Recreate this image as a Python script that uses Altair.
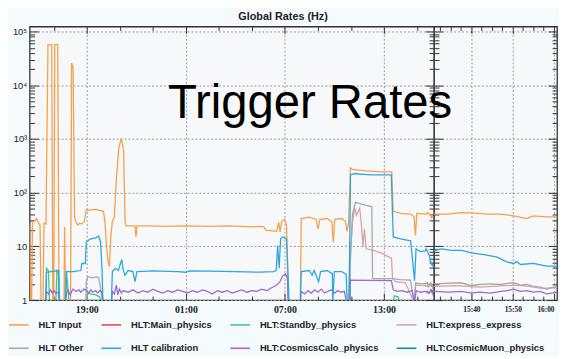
import altair as alt
import pandas as pd

names = ["HLT Input", "HLT:Main_physics", "HLT:Standby_physics", "HLT:express_express",
         "HLT Other", "HLT calibration", "HLT:CosmicsCalo_physics", "HLT:CosmicMuon_physics"]
colors = ["#f5a04c", "#e8474f", "#3cc98c", "#d6a4aa", "#a8a8a8", "#2aa7e2", "#9a6dd0", "#1e8c8e"]

title_text = "Global Rates (Hz)"
overlay_text = "Trigger Rates"

# hours since midnight of day 1 ; rates in Hz (0.9 = below the axis floor)
in_h = [15.54, 15.60, 15.66, 15.71, 15.84, 15.96, 16.08, 16.17, 16.23, 16.35, 16.41, 16.53, 16.65, 16.88,
        16.94, 17.00, 17.06, 17.24, 17.32, 17.62, 17.66, 17.71, 18.02, 18.08, 18.17, 18.26, 18.34, 18.46,
        18.58, 18.70, 18.85, 18.97, 19.54, 20.01, 20.10, 20.19, 20.28, 20.37, 20.46, 20.55, 20.67, 20.79,
        20.94, 21.09, 21.23, 21.32, 21.38, 21.92, 21.98, 22.04, 22.81, 23.71, 25.08, 26.39, 27.58, 29.07,
        29.49, 29.73, 29.85, 30.50, 30.62, 30.71, 30.80, 30.98, 31.10, 31.19, 31.93, 31.99, 32.47, 32.89,
        33.01, 33.12, 33.54, 33.84, 33.93, 34.02, 34.44, 34.67, 34.76, 34.85, 34.97, 35.09, 35.93, 36.82,
        37.47, 37.56, 38.01, 38.61, 38.82, 38.90, 38.99, 39.50, 39.52, 39.573, 39.626, 39.679, 39.731,
        39.785, 39.837, 39.890, 39.917, 39.970, 40.016]
in_v = [26, 0.9, 0.9, 28, 30, 33, 27, 25, 0.9, 0.9, 27, 26, 57000, 57000, 0.9, 0.9, 57000, 57000, 0.9, 0.9,
        23, 0.9, 0.9, 25700, 21000, 35, 29, 25, 27, 26, 29, 47, 49, 45, 29, 11, 5.4, 4.2, 16, 29, 35, 175,
        680, 1030, 620, 29, 24, 24, 15, 24, 24, 23.5, 24, 23.5, 24, 23, 23.5, 23, 20, 19, 28, 18.5, 29, 32,
        25, 0.9, 0.9, 33, 35, 32, 21, 32, 33, 29, 12, 32, 33, 29, 19, 26, 290, 270, 255, 245, 245, 45, 41,
        40, 36, 16, 41, 40, 40, 40, 42.5, 41.5, 40, 40, 37, 33, 37, 35.5, 35.5]

cal_h = [15.54, 16.50, 16.56, 16.85, 17.30, 17.36, 17.72, 17.78, 18.17, 18.64, 18.70, 18.91, 18.97, 19.24,
         19.54, 19.72, 19.83, 19.92, 19.98, 20.49, 20.55, 20.73, 20.91, 21.12, 21.20, 21.32, 21.50, 21.80,
         21.92, 22.04, 23.0, 24.5, 25.0, 25.2, 26.5, 28.0, 29.5, 30.3, 30.47, 30.56, 30.65, 30.74, 30.86,
         31.10, 31.19, 31.25, 31.93, 31.99, 32.47, 32.65, 32.77, 33.04, 33.16, 33.54, 33.87, 33.90, 33.99,
         34.44, 34.71, 34.77, 34.89, 34.97, 35.21, 36.22, 37.44, 37.56, 38.01, 38.61, 38.85, 38.94, 39.20,
         39.50, 39.52, 39.547, 39.586, 39.626, 39.666, 39.718, 39.771, 39.811, 39.837, 39.850, 39.864,
         39.917, 39.970, 40.016]
cal_v = [0.9, 0.9, 3.3, 3.4, 3.55, 0.9, 0.9, 3.4, 3.4, 3.55, 4.8, 4.8, 12.2, 13.8, 14.4, 15.6, 12.2, 3.9,
         0.9, 0.9, 3.4, 3.9, 3.55, 5.7, 3.7, 2.9, 3.55, 3.4, 2.2, 3.4, 3.5, 3.4, 3.3, 3.5, 3.45, 3.4, 3.3,
         3.4, 3.55, 10.3, 3.9, 13.8, 15, 13.8, 3.1, 0.9, 0.9, 3.4, 3.55, 2.9, 3.55, 2.2, 3.4, 3.55, 3.1, 0.9,
         3.4, 3.4, 3.0, 0.9, 0.9, 215, 225, 215, 215, 15, 13.8, 12.7, 2.3, 9, 8, 8.2, 8.4, 9.0, 8.4, 8.4, 7.6,
         7.0, 6.3, 5.1, 4.8, 5.2, 4.6, 4.8, 4.3, 4.3]

cc_h = [15.54, 16.50, 16.56, 16.68, 16.80, 16.91, 17.03, 17.15, 17.30, 17.36, 17.72, 17.78, 17.87, 17.99,
        18.11, 18.17, 18.34, 18.52, 18.64, 18.82, 19.0, 19.12, 19.24, 19.36, 19.54, 19.66, 19.78, 19.92,
        19.98, 20.49, 20.55, 20.67, 20.79, 20.88, 20.97, 21.09, 21.20, 21.5, 21.8, 22.1, 22.4, 22.7, 23.0,
        23.3, 23.6, 23.9, 24.2, 24.5, 24.8, 25.1, 25.4, 25.7, 26.0, 26.3, 26.6, 26.9, 27.2, 27.5, 27.8, 28.1,
        28.4, 28.7, 29.0, 29.3, 29.6, 29.9, 30.2, 30.5, 30.7, 30.85, 31.04, 31.15, 31.2, 31.93, 31.99, 32.2,
        32.4, 32.6, 32.8, 33.0, 33.2, 33.4, 33.6, 33.8, 34.0, 34.2, 34.4, 34.6, 34.73, 34.93, 34.97, 37.45,
        37.56, 37.8, 38.1, 38.4, 38.7, 38.85, 38.95, 39.2, 39.5, 39.52, 39.573, 39.626, 39.666, 39.70,
        39.745, 39.785, 39.811, 39.837, 39.864, 39.890, 39.917, 39.944, 39.970, 39.990, 40.016]
cc_v = [0.9, 0.9, 1.45, 1.3, 1.55, 1.35, 1.5, 1.3, 1.45, 0.9, 0.9, 1.35, 1.55, 1.25, 1.5, 1.6, 1.45, 1.55,
        1.4, 1.6, 1.5, 1.35, 1.55, 1.4, 1.5, 1.35, 1.5, 1.4, 0.9, 0.9, 1.45, 1.3, 1.9, 1.25, 1.6, 1.35, 1.5,
        1.4, 1.55, 1.35, 1.5, 1.4, 1.6, 1.45, 1.35, 1.5, 1.4, 1.55, 1.45, 1.35, 1.5, 1.4, 1.55, 1.45, 1.3,
        1.5, 1.4, 1.5, 1.35, 1.45, 1.55, 1.4, 1.5, 1.45, 1.6, 1.5, 1.7, 1.9, 2.2, 2.8, 3.1, 2.5, 0.9, 0.9,
        1.45, 1.3, 1.5, 1.35, 1.55, 1.4, 1.6, 1.35, 1.45, 1.55, 1.35, 1.5, 1.4, 1.45, 0.9, 0.9, 2.35, 2.3,
        1.55, 1.45, 1.5, 1.4, 1.5, 0.9, 1.5, 1.4, 1.45, 1.45, 1.4, 1.45, 1.35, 1.4, 1.35, 1.45, 1.5, 1.6,
        1.45, 1.5, 1.4, 1.45, 1.3, 1.35, 1.4]

oth_h = [15.54, 18.94, 18.97, 19.06, 19.3, 19.6, 19.72, 19.83, 19.95, 34.85, 34.97, 35.09, 35.27, 35.45,
         35.9, 36.26, 36.31, 37.5, 38.0, 38.6, 38.82, 38.92, 39.2, 39.5, 39.52, 39.56, 39.626, 39.666, 39.70,
         39.745, 39.785, 39.811, 39.837, 39.864, 39.890, 39.917, 39.944, 39.970, 39.99, 40.016]
oth_v = [0.9, 0.9, 2.2, 2.75, 2.6, 2.7, 2.6, 1.7, 0.9, 0.9, 5.9, 40, 66, 64, 58, 55, 2.5, 2.5, 2.4, 2.35,
         0.9, 2.1, 2.0, 2.05, 2.0, 2.05, 2.1, 1.85, 1.95, 2.0, 1.95, 2.05, 2.1, 1.9, 1.95, 1.8, 1.75, 1.6,
         1.7, 1.8]

ex_h = [15.54, 34.93, 34.97, 35.09, 35.23, 35.33, 35.53, 35.63, 35.73, 35.81, 35.92, 36.32, 36.92, 37.31,
        37.45, 37.52, 37.7, 38.3, 38.82, 38.92, 39.5, 39.52, 39.6, 39.7, 39.8, 39.85, 39.9, 39.95, 40.016]
ex_v = [0.9, 0.9, 8, 28, 52, 38, 52, 25, 9.7, 21, 9, 8.5, 7.3, 6.3, 6.0, 2.5, 2.2, 2.1, 0.9, 1.9, 1.85,
        1.8, 1.85, 1.75, 1.85, 1.9, 1.8, 1.65, 1.7]

sb_h = [15.54, 16.53, 16.56, 16.68, 16.74, 17.13, 17.19, 17.28, 17.31, 17.69, 17.75, 17.84, 17.93, 19.0,
        19.06, 19.24, 19.54, 19.77, 19.89, 34.89, 34.92, 34.95, 37.56, 37.62, 37.85, 37.93, 40.03]
sb_v = [0.9, 0.9, 3.9, 3.5, 0.9, 0.9, 3.5, 3.1, 0.9, 0.9, 3.5, 2.0, 0.9, 0.9, 1.35, 1.3, 1.25, 1.15, 0.9,
        0.9, 12, 0.9, 0.9, 1.2, 1.15, 0.9, 0.9]

series = [("HLT Input", in_h, in_v), ("HLT:Standby_physics", sb_h, sb_v),
          ("HLT:express_express", ex_h, ex_v), ("HLT Other", oth_h, oth_v),
          ("HLT:CosmicsCalo_physics", cc_h, cc_v), ("HLT calibration", cal_h, cal_v)]
rows = []
for nm, hs, vs in series:
    assert len(hs) == len(vs), nm
    for h, v in zip(hs, vs):
        rows.append({"series": nm, "h": h, "v": v})
df = pd.DataFrame(rows)

H = 278
W1 = 411
W2 = 125
main_dom = [15.54, 40.03]
zoom_dom = [39.516, 40.012]
main_labels = [19, 25, 31, 37]
main_ticks = list(range(17, 40, 2))
zoom_labels = [39 + 40 / 60, 39 + 50 / 60, 40]
zoom_ticks = [39 + (32.5 + 2.5 * k) / 60 for k in range(12)]
y_major = [1, 10, 100, 1000, 10000, 100000]
y_ticks = [k * 10 ** d for d in range(5) for k in range(1, 10)] + [100000]

sans = "Liberation Sans, Arial, sans-serif"
serif = "Liberation Serif, Times New Roman, serif"
hhmm = ("(floor(datum.value % 24) < 10 ? '0' : '') + floor(datum.value % 24) + ':' + "
        "(round((datum.value % 1) * 60) < 10 ? '0' : '') + round((datum.value % 1) * 60)")
ylab = ("datum.value == 1 ? '1' : datum.value == 10 ? '10' : datum.value == 100 ? '10²' : "
        "datum.value == 1000 ? '10³' : datum.value == 10000 ? '10⁴' : '10⁵'")
ymaj_test = "abs(log(datum.value)/LN10 - round(log(datum.value)/LN10)) < 0.001"
xmaj_main = "(datum.value - 1) % 6 == 0"
xmaj_zoom = "abs(datum.value*6 - round(datum.value*6)) < 0.001"


def cond(test, a, b):
    return {"condition": {"test": test, "value": a}, "value": b}


ys = alt.Scale(type="log", domain=[1, 124000], nice=False)
xs_main = alt.Scale(domain=main_dom, nice=False, zero=False)
xs_zoom = alt.Scale(domain=zoom_dom, nice=False, zero=False)

color = alt.Color("series:N", scale=alt.Scale(domain=names, range=colors),
                  legend=alt.Legend(orient="none", legendX=-22, legendY=292, direction="horizontal",
                                    columns=4, title=None, symbolType="stroke", symbolSize=400,
                                    symbolStrokeWidth=1.6, labelFont=sans, labelFontSize=9.5,
                                    labelFontWeight="bold", labelColor="#222", labelOffset=9,
                                    columnPadding=14, rowPadding=8, labelLimit=250))


def tick_layer(xs, W, xvals, xtest, side):
    xo, yo = ("top", "right") if side == "B" else ("bottom", "left")
    return alt.Chart(df).mark_point(opacity=0, size=1, clip=True).encode(
        x=alt.X("h:Q", scale=xs, axis=alt.Axis(orient=xo, offset=-H, values=xvals, labels=False,
                                                domain=False, grid=False, tickSize=cond(xtest, 7, 4),
                                                tickColor="#333", tickWidth=1, title=None)),
        y=alt.Y("v:Q", scale=ys, axis=alt.Axis(orient=yo, offset=-W, values=y_ticks, labels=False,
                                               domain=False, grid=False, tickSize=cond(ymaj_test, 9, 5),
                                               tickColor="#333", tickWidth=1, title=None)),
    )


mainA = alt.Chart(df).mark_line(strokeWidth=1.3, clip=True).encode(
    x=alt.X("h:Q", scale=xs_main, axis=alt.Axis(orient="bottom", values=main_labels, labelExpr=hhmm,
                                                 grid=True, gridDash=[2, 2], gridColor="#999",
                                                 ticks=False, domain=False, labelFont=serif,
                                                 labelFontSize=10, labelFontWeight="bold",
                                                 labelColor="#222", labelPadding=5, title=None)),
    y=alt.Y("v:Q", scale=ys, axis=alt.Axis(orient="left", values=y_major, labelExpr=ylab, grid=True,
                                           gridDash=[2, 2], gridColor="#999", ticks=False, domain=False,
                                           labelFont=sans, labelFontSize=9.5, labelColor="#222",
                                           labelPadding=3, minExtent=20, title=None)),
    color=color,
)
main = alt.layer(mainA, tick_layer(xs_main, W1, main_ticks, xmaj_main, "B"),
                 tick_layer(xs_main, W1, main_ticks, xmaj_main, "C")).resolve_axis(
    x="independent", y="independent").properties(width=W1, height=H)

zoomA = alt.Chart(df).mark_line(strokeWidth=1.3, clip=True).encode(
    x=alt.X("h:Q", scale=xs_zoom, axis=alt.Axis(orient="bottom", values=zoom_labels, labelExpr=hhmm,
                                                 grid=True, gridDash=[2, 2], gridColor="#999",
                                                 ticks=False, domain=False, labelFont=serif,
                                                 labelFontSize=7.5, labelFontWeight="bold",
                                                 labelColor="#222", labelPadding=6, labelFlush=6,
                                                 title=None)),
    y=alt.Y("v:Q", scale=ys, axis=alt.Axis(orient="left", values=y_major, labels=False, grid=True,
                                           gridDash=[2, 2], gridColor="#999", ticks=False, domain=False,
                                           title=None)),
    color=color,
)
txt = alt.Chart(pd.DataFrame({"label": [overlay_text]})).mark_text(
    fontSize=48, font=sans, color="black", align="center",
    baseline="alphabetic").encode(text="label:N", x=alt.value(-126), y=alt.value(93))

zoom = alt.layer(zoomA, tick_layer(xs_zoom, W2, zoom_ticks, xmaj_zoom, "B"),
                 tick_layer(xs_zoom, W2, zoom_ticks, xmaj_zoom, "C"), txt).resolve_axis(
    x="independent", y="independent").properties(width=W2, height=H)

chart = alt.hconcat(main, zoom, spacing=0, bounds="flush").properties(
    title=alt.TitleParams(title_text, anchor="middle", font=sans, fontSize=11, fontWeight="bold",
                          color="#222", offset=3),
    background="#f5fafd",
    padding={"left": 0, "right": 0, "top": 0, "bottom": 0},
).configure_view(stroke="#333", strokeWidth=1.3, fill="#f6f8fa")

chart.save("out.html", embed_options={"renderer": "svg", "actions": False})
